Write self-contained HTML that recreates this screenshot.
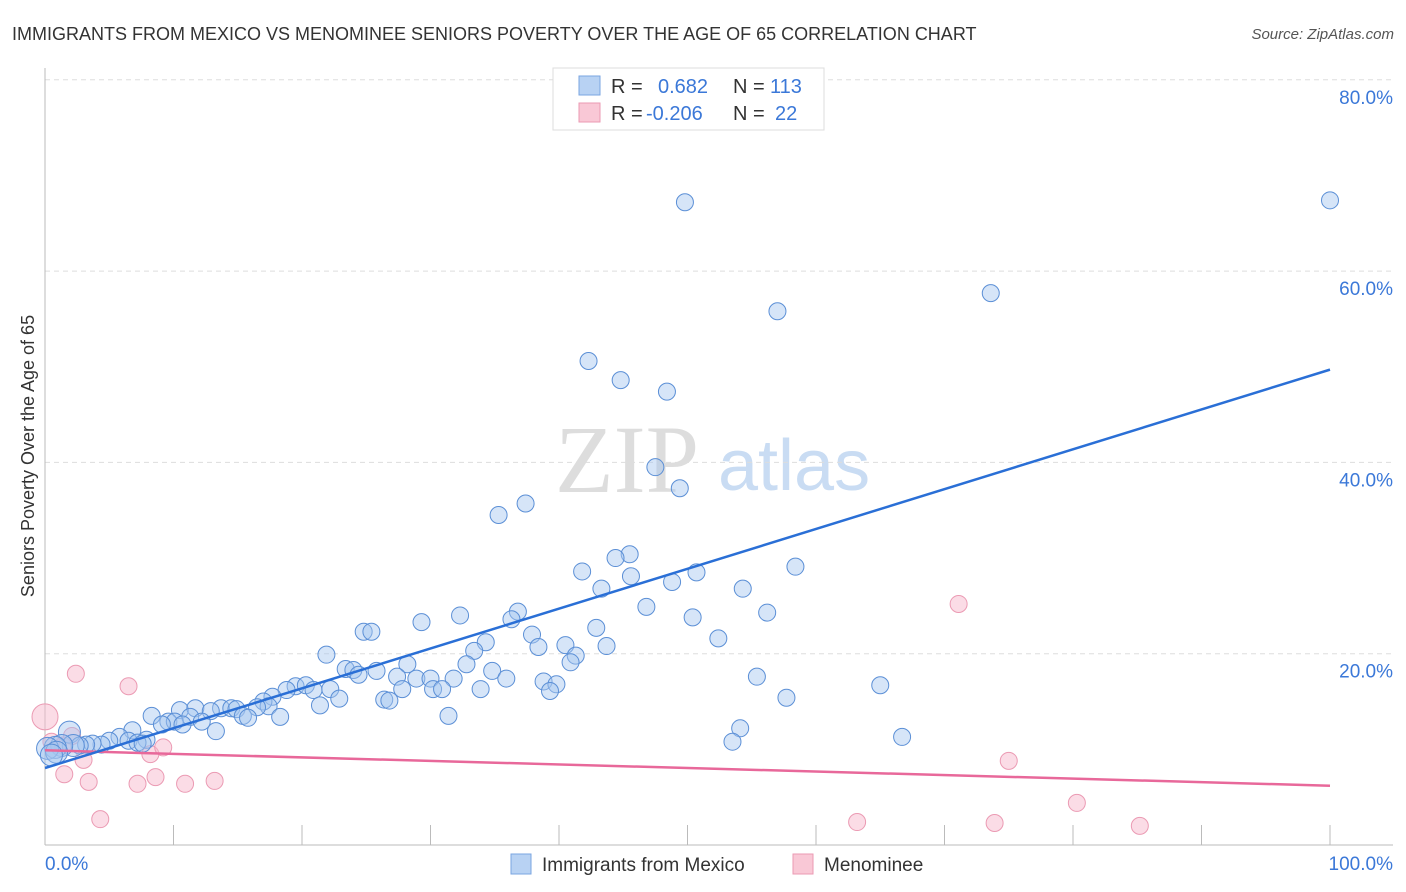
<!DOCTYPE html>
<html><head><meta charset="utf-8"><style>
body{margin:0;background:#fff;font-family:"Liberation Sans",sans-serif;}
svg{display:block}
</style></head><body>
<svg id="chart" width="1406" height="892" xmlns="http://www.w3.org/2000/svg">
<text x="12" y="40" font-size="18" fill="#333">IMMIGRANTS FROM MEXICO VS MENOMINEE SENIORS POVERTY OVER THE AGE OF 65 CORRELATION CHART</text>
<text x="1394" y="39" font-size="15" fill="#555" font-style="italic" text-anchor="end">Source: ZipAtlas.com</text>
<text x="555" y="492" font-size="96" fill="#ddd" font-family="Liberation Serif,serif">ZIP</text>
<text x="718" y="490" font-size="72" fill="#c9dcf3">atlas</text>
<text transform="translate(34,456) rotate(-90)" font-size="18" fill="#333" text-anchor="middle">Seniors Poverty Over the Age of 65</text>
<g id="grid"></g><g id="axes"></g><g id="pink"></g><g id="blue"></g><g id="lines"></g>
<g>
<rect x="553" y="68" width="271" height="62" fill="#fff" stroke="#ddd"/>
<rect x="579" y="76" width="21" height="19" fill="#b8d2f3" stroke="#7aa5e0"/>
<rect x="579" y="103" width="21" height="19" fill="#f9c8d6" stroke="#eb9ab3"/>
<text x="611" y="93" font-size="20" fill="#333">R =</text><text x="658" y="93" font-size="20" fill="#3b78d8">0.682</text>
<text x="733" y="93" font-size="20" fill="#333">N =</text><text x="770" y="93" font-size="20" fill="#3b78d8">113</text>
<text x="611" y="120" font-size="20" fill="#333">R =</text><text x="646" y="120" font-size="20" fill="#3b78d8">-0.206</text>
<text x="733" y="120" font-size="20" fill="#333">N =</text><text x="775" y="120" font-size="20" fill="#3b78d8">22</text>
</g>
<g>
<rect x="511" y="854" width="20" height="20" fill="#b8d2f3" stroke="#7aa5e0"/>
<text x="542" y="871" font-size="19" fill="#333">Immigrants from Mexico</text>
<rect x="793" y="854" width="20" height="20" fill="#f9c8d6" stroke="#eb9ab3"/>
<text x="824" y="871" font-size="19" fill="#333">Menominee</text>
</g>
</svg>
<script>
const yTicks=[20,40,60,80];
const yTickLabels=["20.0%","40.0%","60.0%","80.0%"];
const blueX=[49.8,100,73.6,57.0,42.3,44.8,48.4,47.5,49.4,35.3,37.4,45.5,44.4,41.8,45.6,50.7,58.4,48.8,43.3,54.3,46.8,56.2,50.4,32.3,36.8,36.3,29.3,42.9,37.9,24.8,25.4,34.3,52.4,40.5,43.7,38.4,21.9,33.4,41.3,40.9,32.8,28.2,23.4,24.0,25.8,24.4,34.8,55.4,65.0,27.4,28.9,30.0,31.8,35.9,38.8,39.8,27.8,30.2,30.9,33.9,39.3,19.5,20.3,20.9,22.2,18.8,17.7,17.0,22.9,21.4,26.4,26.8,57.7,17.4,16.5,10.5,11.7,13.7,14.5,14.9,12.9,11.3,15.4,15.8,18.3,31.4,8.3,9.6,10.1,9.1,12.2,10.7,6.8,54.1,13.3,66.7,53.5,1.9,5.8,6.5,7.9,5.0,4.4,3.7,3.2,2.7,2.2,1.3,0.8,7.2,7.6,0.2,0.9,0.5];
const blueY=[67.2,67.4,57.7,55.8,50.6,48.6,47.4,39.5,37.3,34.5,35.7,30.4,30.0,28.6,28.1,28.5,29.1,27.5,26.8,26.8,24.9,24.3,23.8,24.0,24.4,23.6,23.3,22.7,22.0,22.3,22.3,21.2,21.6,20.9,20.8,20.7,19.9,20.3,19.8,19.1,18.9,18.9,18.4,18.3,18.2,17.8,18.2,17.6,16.7,17.6,17.4,17.4,17.4,17.4,17.1,16.8,16.3,16.3,16.3,16.3,16.1,16.6,16.7,16.2,16.3,16.2,15.5,15.0,15.3,14.6,15.2,15.1,15.4,14.5,14.4,14.1,14.3,14.3,14.3,14.2,14.0,13.4,13.5,13.3,13.4,13.5,13.5,12.9,12.9,12.6,12.9,12.6,12.0,12.2,11.9,11.3,10.8,11.8,11.3,10.9,11.0,10.9,10.5,10.6,10.5,10.4,10.4,10.4,10.2,10.7,10.6,10.1,9.7,9.4];
const pinkX=[0,2.4,6.5,0.5,2.1,1.4,3.0,1.5,3.4,4.3,8.2,9.2,8.6,7.2,10.9,13.2,71.1,75.0,80.3,63.2,73.9,85.2];
const pinkY=[13.4,17.9,16.6,10.8,11.4,10.4,8.9,7.4,6.6,2.7,9.5,10.2,7.1,6.4,6.4,6.7,25.2,8.8,4.4,2.4,2.3,2.0];
const blueTrend=[8.05,49.7];
const pinkTrend=[9.9,6.2];
const NS="http://www.w3.org/2000/svg";
const X0=45,X1=1330,Y0=845,PY=9.565;
const sx=v=>X0+(X1-X0)*v/100, sy=v=>Y0-v*PY;
function mk(tag,attrs,parent){const e=document.createElementNS(NS,tag);for(const k in attrs)e.setAttribute(k,attrs[k]);document.getElementById(parent).appendChild(e);return e;}
yTicks.forEach((t,i)=>{
 const g=mk('line',{x1:45,x2:1393,y1:sy(t),y2:sy(t),stroke:'#ddd','stroke-dasharray':'5,4'},'grid');
 
 
 const l=mk('text',{x:1393,y:sy(t)+24,'text-anchor':'end','font-size':19,fill:'#3b78d8'},'grid');
 l.textContent=yTickLabels[i];
 
 
});
let a=mk('line',{x1:45,x2:45,y1:68,y2:845,stroke:'#bbb'},'axes');


a=mk('line',{x1:45,x2:1393,y1:845,y2:845,stroke:'#bbb'},'axes');


for(let k=1;k<=10;k++){const t=mk('line',{x1:sx(k*10),x2:sx(k*10),y1:825,y2:845,stroke:'#bbb'},'axes');
 
 }
let t=mk('text',{x:45,y:870,'font-size':19,fill:'#3b78d8'},'axes');t.textContent='0.0%';


t=mk('text',{x:1393,y:870,'font-size':19,fill:'#3b78d8','text-anchor':'end'},'axes');t.textContent='100.0%';


pinkX.forEach((x,i)=>{const c=mk('circle',{cx:sx(x),cy:sy(pinkY[i]),r:i==0?13:8.5,fill:'rgba(248,185,205,0.5)',stroke:'#eb9ab3','stroke-width':1},'pink');
 
 });
blueX.forEach((x,i)=>{const big=(x<2.5&&blueY[i]<12);const c=mk('circle',{cx:sx(x),cy:sy(blueY[i]),r:big?11:8.5,fill:'rgba(165,198,240,0.45)',stroke:'#5b8fd6','stroke-width':1},'blue');
 
 });
let ln=mk('line',{x1:sx(0),y1:sy(pinkTrend[0]),x2:sx(100),y2:sy(pinkTrend[1]),stroke:'#e8689a','stroke-width':2.5},'lines');


ln=mk('line',{x1:sx(0),y1:sy(blueTrend[0]),x2:sx(100),y2:sy(blueTrend[1]),stroke:'#2a6fd6','stroke-width':2.5},'lines');


</script>
</body></html>
